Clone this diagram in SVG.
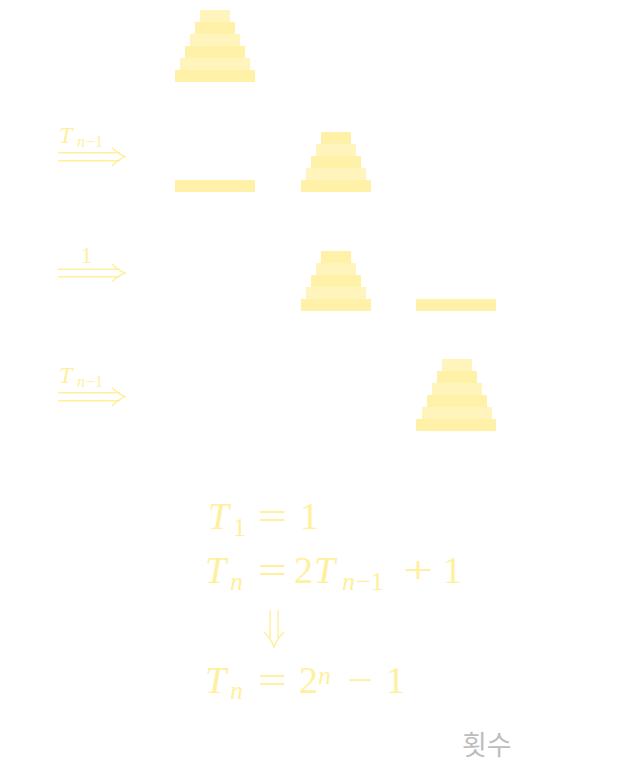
<svg xmlns="http://www.w3.org/2000/svg" width="626" height="772" viewBox="0 0 626 772">
<style>
.a{fill:#fff2a8}
.b{fill:#fff5bc}
.m{font-family:"Liberation Serif","DejaVu Serif",serif;fill:#fff09e}
.i{font-style:italic}
.arr{fill:none;stroke:#fff09e;stroke-width:1.4}
.k{font-family:"Noto Sans CJK KR","Noto Sans",sans-serif;fill:#bdbdbd;font-size:27px}
</style>
<rect width="626" height="772" fill="#ffffff"/>
<g id="state0">
<rect class="b" x="200" y="10" width="30" height="12"/>
<rect class="a" x="195" y="22" width="40" height="12"/>
<rect class="b" x="190" y="34" width="50" height="12"/>
<rect class="a" x="185" y="46" width="60" height="12"/>
<rect class="b" x="180" y="58" width="70" height="12"/>
<rect class="a" x="175" y="70" width="80" height="12"/>
</g>
<g id="state1">
<rect class="a" x="175" y="180" width="80" height="12"/>
<rect class="a" x="321" y="132" width="30" height="12"/>
<rect class="b" x="316" y="144" width="40" height="12"/>
<rect class="a" x="311" y="156" width="50" height="12"/>
<rect class="b" x="306" y="168" width="60" height="12"/>
<rect class="a" x="301" y="180" width="70" height="12"/>
</g>
<g id="state2">
<rect class="a" x="321" y="251" width="30" height="12"/>
<rect class="b" x="316" y="263" width="40" height="12"/>
<rect class="a" x="311" y="275" width="50" height="12"/>
<rect class="b" x="306" y="287" width="60" height="12"/>
<rect class="a" x="301" y="299" width="70" height="12"/>
<rect class="a" x="416" y="299" width="80" height="12"/>
</g>
<g id="state3">
<rect class="b" x="442" y="359" width="30" height="12"/>
<rect class="a" x="437" y="371" width="40" height="12"/>
<rect class="b" x="432" y="383" width="50" height="12"/>
<rect class="a" x="427" y="395" width="60" height="12"/>
<rect class="b" x="422" y="407" width="70" height="12"/>
<rect class="a" x="416" y="419" width="80" height="12"/>
</g>
<g id="connectors">
<g id="arrow1">
<path class="arr" d="M58,152.7 H120 M58,160.7 H120 M112,147.5 Q118,154 125,156.7 Q118,159.5 112,166"/>
<text class="m i" x="59" y="143" font-size="24">T</text>
<text class="m i" x="77" y="147" font-size="16">n</text>
<text class="m" x="86" y="147" font-size="16">−1</text>
</g>
<g id="arrow2">
<path class="arr" d="M58,269.3 H120 M58,276.7 H120 M112,264 Q118,270.5 125,273 Q118,275.5 112,282"/>
<text class="m" x="86.5" y="262.5" font-size="23" text-anchor="middle">1</text>
</g>
<g id="arrow3">
<path class="arr" d="M58,392.7 H120 M58,400.7 H120 M112,387.5 Q118,394 125,396.7 Q118,399.5 112,406"/>
<text class="m i" x="59" y="383" font-size="24">T</text>
<text class="m i" x="77" y="387" font-size="16">n</text>
<text class="m" x="86" y="387" font-size="16">−1</text>
</g>
</g>
<g id="equations">
<text class="m i" x="208" y="529" font-size="38">T</text>
<text class="m" x="233" y="536" font-size="26">1</text>
<text class="m" x="258" y="529" font-size="38" textLength="29" lengthAdjust="spacingAndGlyphs">=</text>
<text class="m" x="300" y="529" font-size="38">1</text>

<text class="m i" x="205" y="583" font-size="38">T</text>
<text class="m i" x="230" y="590" font-size="26">n</text>
<text class="m" x="258" y="583" font-size="38" textLength="29" lengthAdjust="spacingAndGlyphs">=</text>
<text class="m" x="294" y="583" font-size="38">2</text>
<text class="m i" x="314" y="583" font-size="38">T</text>
<text class="m i" x="342" y="590" font-size="26">n</text>
<text class="m" x="356" y="590" font-size="26">−1</text>
<text class="m" x="403" y="583" font-size="38" textLength="30" lengthAdjust="spacingAndGlyphs">+</text>
<text class="m" x="443" y="583" font-size="38">1</text>

<path class="arr" d="M270,610 V638 M278,610 V638 M264,632 Q271,639 274,647 Q277,639 284,632"/>

<text class="m i" x="205" y="693" font-size="38">T</text>
<text class="m i" x="230" y="699" font-size="26">n</text>
<text class="m" x="258" y="693" font-size="38" textLength="29" lengthAdjust="spacingAndGlyphs">=</text>
<text class="m" x="299" y="693" font-size="38">2</text>
<text class="m i" x="318" y="684" font-size="26">n</text>
<text class="m" x="347" y="693" font-size="38" textLength="26" lengthAdjust="spacingAndGlyphs">−</text>
<text class="m" x="386" y="693" font-size="38">1</text>
</g>
<text class="k" x="462" y="755">횟수</text>
</svg>
